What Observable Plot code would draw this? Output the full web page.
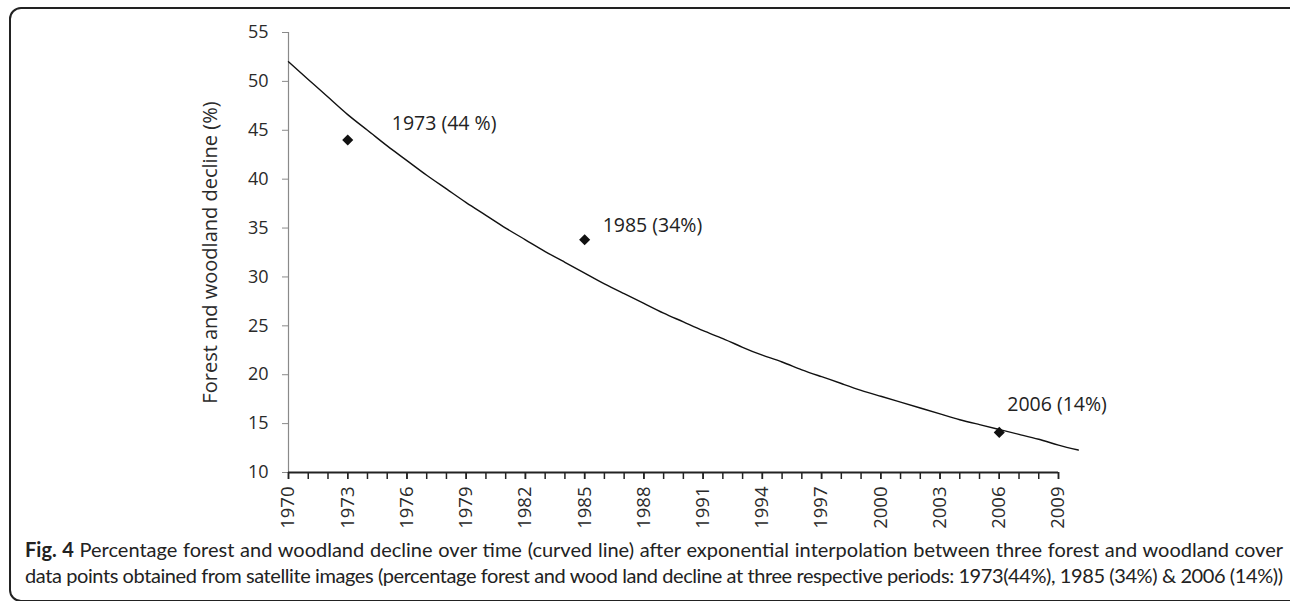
<!DOCTYPE html>
<html>
<head>
<meta charset="utf-8">
<script src="https://cdn.jsdelivr.net/npm/d3@7"></script>
<script src="https://cdn.jsdelivr.net/npm/@observablehq/plot@0.6"></script>
<style>
html, body { margin: 0; padding: 0; background: #fff; width: 1290px; height: 601px; overflow: hidden; position: relative; }
#frame { position: absolute; left: 9px; top: 7px; width: 1300px; height: 595px; border: 2px solid #222; border-radius: 12px; box-sizing: border-box; pointer-events: none; }
#chart { position: absolute; left: 0; top: 0; }
#caption { position: absolute; left: 25px; top: 536px; width: 1258px; font-family: Lato, sans-serif; font-size: 20px; line-height: 26px; color: #222; }
#caption div { white-space: nowrap; height: 26px; }
#caption span { display: inline-block; white-space: nowrap; }
</style>
</head>
<body>
<div id="chart"></div>
<div id="caption">
  <div><span><b>Fig. 4</b> Percentage forest and woodland decline over time (curved line) after exponential interpolation between three forest and woodland cover</span></div>
  <div><span>data points obtained from satellite images (percentage forest and wood land decline at three respective periods: 1973(44%), 1985 (34%) &amp; 2006 (14%))</span></div>
</div>
<div id="frame"></div>
<script>
// Curve (exponential interpolation)
const curveYears = [1970, 1971, 1972, 1973, 1974, 1975, 1976, 1977, 1978, 1979,
                    1980, 1981, 1982, 1983, 1984, 1985, 1986, 1987, 1988, 1989,
                    1990, 1991, 1992, 1993, 1994, 1995, 1996, 1997, 1998, 1999,
                    2000, 2001, 2002, 2003, 2004, 2005, 2006, 2007, 2008, 2009, 2010];
const curveValues = [52.0, 50.2, 48.4, 46.6, 45.0, 43.4, 41.9, 40.4, 39.0, 37.6,
                     36.3, 35.0, 33.8, 32.6, 31.5, 30.4, 29.3, 28.3, 27.3, 26.3,
                     25.4, 24.5, 23.7, 22.8, 22.0, 21.3, 20.5, 19.8, 19.1, 18.4,
                     17.8, 17.2, 16.6, 16.0, 15.4, 14.9, 14.4, 13.9, 13.4, 12.8, 12.3];

// Satellite data points
const pointYears = [1973, 1985, 2006];
const pointValues = [44.0, 33.8, 14.1];
const pointLabels = ["1973 (44 %)", "1985 (34%)", "2006 (14%)"];

// Axes
const yTicks = [10, 15, 20, 25, 30, 35, 40, 45, 50, 55];
const xTickLabels = [1970, 1973, 1976, 1979, 1982, 1985, 1988, 1991, 1994, 1997, 2000, 2003, 2006, 2009];
const xMinorTicks = [1970, 1971, 1972, 1973, 1974, 1975, 1976, 1977, 1978, 1979,
                     1980, 1981, 1982, 1983, 1984, 1985, 1986, 1987, 1988, 1989,
                     1990, 1991, 1992, 1993, 1994, 1995, 1996, 1997, 1998, 1999,
                     2000, 2001, 2002, 2003, 2004, 2005, 2006, 2007, 2008, 2009];
const yTitle = "Forest and woodland decline (%)";

const curve = curveYears.map((year, i) => ({year, value: curveValues[i]}));
const points = pointYears.map((year, i) => ({year, value: pointValues[i], label: pointLabels[i]}));

const labelStyle = {x: "year", y: "value", text: "label", textAnchor: "start", fontSize: 19.5, fill: "#222"};

const chart = Plot.plot({
  width: 1290,
  height: 536,
  marginTop: 32,
  marginBottom: 64,
  marginLeft: 288,
  marginRight: 232,
  style: {fontFamily: "'Open Sans', sans-serif", fontSize: "18px", color: "#333", background: "transparent", overflow: "visible"},
  x: {domain: [1970, 2009]},
  y: {domain: [10, 55]},
  marks: [
    Plot.ruleX([1970], {y1: 10, y2: 55, stroke: "#8a8a8a", strokeWidth: 1.2}),
    Plot.axisY(yTicks, {tickSize: 6, tickPadding: 14, stroke: "#8a8a8a", fill: "#2a2a2a", fontSize: 18, label: null}),
    Plot.axisX(xMinorTicks, {tickSize: 7, stroke: "#222", strokeWidth: 1.5, fill: "none", label: null}),
    Plot.axisX(xTickLabels, {tickSize: 7, tickPadding: 7, tickRotate: -90, stroke: "#222", strokeWidth: 1.5, fill: "#2a2a2a", fontSize: 18.5, label: null, tickFormat: d => String(d)}),
    Plot.ruleY([10], {x1: 1970, x2: 2009, stroke: "#222", strokeWidth: 2}),
    Plot.text([yTitle], {frameAnchor: "left", textAnchor: "middle", rotate: -90, dx: -78, fontSize: 20, fill: "#2a2a2a"}),
    Plot.line(curve, {x: "year", y: "value", stroke: "#111", strokeWidth: 1.4, curve: "natural"}),
    Plot.dot(points, {x: "year", y: "value", symbol: "diamond2", r: 5, fill: "#111", stroke: "none"}),
    Plot.text([points[0]], {...labelStyle, dx: 44, dy: -16}),
    Plot.text([points[1]], {...labelStyle, dx: 18, dy: -14}),
    Plot.text([points[2]], {...labelStyle, dx: 8, dy: -28})
  ]
});
document.getElementById("chart").append(chart);

// Justify each caption line to the full width without wrapping
const targetWidth = 1258;
document.querySelectorAll("#caption span").forEach(span => {
  const text = span.textContent;
  const gaps = (text.match(/ /g) || []).length;
  const chars = text.length;
  const w = span.getBoundingClientRect().width;
  const extra = targetWidth - w;
  if (extra >= 0) {
    span.style.wordSpacing = (extra / gaps) + "px";
  } else {
    span.style.letterSpacing = (extra / chars) + "px";
  }
});
</script>
</body>
</html>
